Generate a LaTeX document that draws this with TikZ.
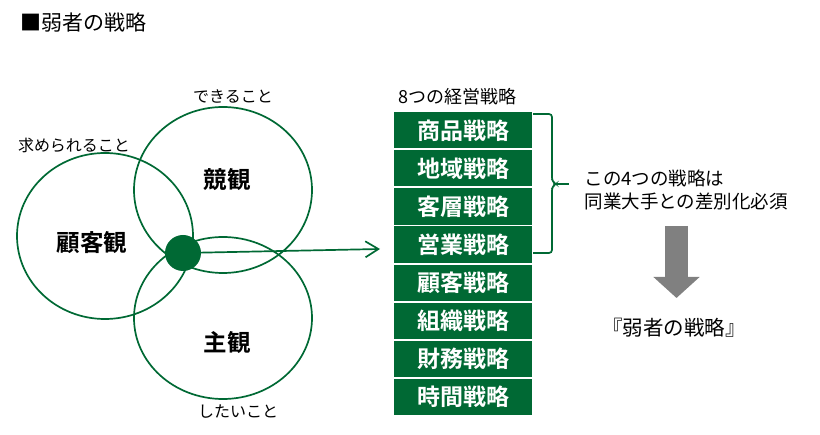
\documentclass[tikz,border=0pt]{standalone}
\usepackage{fontspec}
\setmainfont{Noto Sans CJK JP}[BoldFont={Noto Sans CJK JP Bold}]
\usepackage{xcolor}
\definecolor{darkgreen}{RGB}{0, 105, 52}
\definecolor{arrowgray}{RGB}{128, 128, 128}
\usetikzlibrary{shapes.geometric, arrows.meta, positioning}

\begin{document}
\begin{tikzpicture}[x=1pt, y=-1pt, node distance=1.5pt,
        view/.style={ellipse, draw=darkgreen, line width=1.7pt, inner sep=0pt},
        viewname/.style={font=\fontsize{23.5}{23.5}\selectfont\bfseries},
        wish/.style={font=\fontsize{16}{16}\selectfont},
        strat/.style={rectangle, fill=darkgreen, text=white, minimum width=138pt, minimum height=36.2pt, inner sep=0pt, font=\fontsize{23}{23}\selectfont\bfseries},
        note/.style={font=\fontsize{18.5}{23}\selectfont, align=left},
        line/.style={draw=darkgreen, line width=1.7pt, -{Straight Barb[length=13pt, width=16pt]}},
        brace/.style={draw=darkgreen, line width=1.7pt, rounded corners=3pt},
        bigarrow/.style={draw=arrowgray, line width=23pt, -{Triangle[width=45pt, length=21pt]}}]

        \useasboundingbox (0,0) rectangle (820,435);

        \node [anchor=west, font=\fontsize{21}{21}\selectfont] (title) at (17,23) {■弱者の戦略};

        % three views
        \node [view, minimum width=176pt, minimum height=166pt] (cust) at (105,236) {};
        \node [view, minimum width=178pt, minimum height=166pt] (rival) at (223,190) {};
        \node [view, minimum width=178pt, minimum height=162pt] (self) at (223,318) {};

        \node [viewname] (custname) at (92,243) {顧客観};
        \node [viewname] (rivalname) at (227,180) {競観};
        \node [viewname] (selfname) at (227,343) {主観};

        \node [wish] (custwish) at (74,145) {求められること};
        \node [wish] (rivalwish) at (233,97) {できること};
        \node [wish] (selfwish) at (238,412) {したいこと};

        \node [circle, fill=darkgreen, minimum size=36pt, inner sep=0pt] (core) at (183,253) {};

        % eight strategies
        \node [anchor=west, font=\fontsize{18}{18}\selectfont] (eighthead) at (395,97) {8つの経営戦略};
        \node [strat, anchor=north west] (s1) at (394,112) {商品戦略};
        \node [strat, below=of s1] (s2) {地域戦略};
        \node [strat, below=of s2] (s3) {客層戦略};
        \node [strat, below=of s3] (s4) {営業戦略};
        \node [strat, below=of s4] (s5) {顧客戦略};
        \node [strat, below=of s5] (s6) {組織戦略};
        \node [strat, below=of s6] (s7) {財務戦略};
        \node [strat, below=of s7] (s8) {時間戦略};

        \coordinate (aim) at (380,249);
        \path [line] (core) -- (aim);

        \draw [brace] (533,114) -- (552,114) -- (552,181) -- (556,184) -- (552,187) -- (552,253) -- (533,253);
        \draw [brace] (555,184) -- (569,184);

        \node [note, anchor=west] (note) at (581,189.5) {この4つの戦略は\\同業大手との差別化必須};

        \coordinate (down1) at (676.5,226);
        \coordinate (down2) at (676.5,298);
        \draw [bigarrow] (down1) -- (down2);

        \node [font=\fontsize{20.5}{20.5}\selectfont] (result) at (674,328) {『弱者の戦略』};
    \end{tikzpicture}
\end{document}
